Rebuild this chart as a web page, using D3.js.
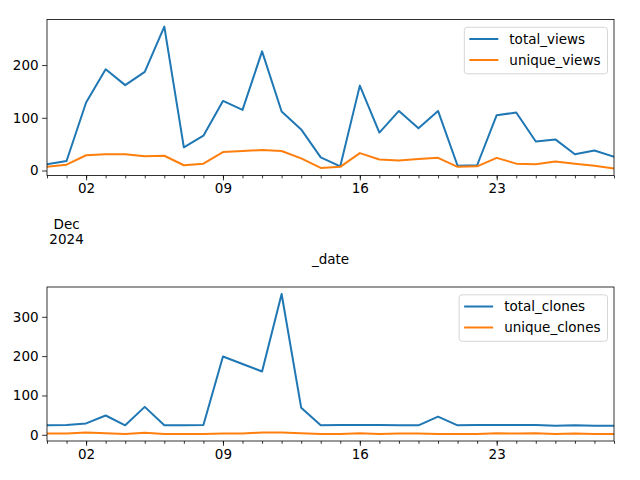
<!DOCTYPE html>
<html>
<head>
<meta charset="utf-8">
<script src="https://cdn.jsdelivr.net/npm/d3@7"></script>
<style>
  body { margin: 0; background: #fff; }
  svg text { font-family: "DejaVu Sans", sans-serif; font-size: 13.5px; fill: #000; }
</style>
</head>
<body>
<svg id="chart" width="640" height="480"></svg>
<script>
// Daily traffic, 2024-11-30 .. 2024-12-29
const dates = d3.timeDay.range(new Date(2024, 10, 30), new Date(2024, 11, 30))

const totalViews = [12, 18, 129, 192, 162, 187, 273, 44, 66, 132, 115, 226, 112, 78, 25,
  8, 161, 72, 113, 80, 113, 9, 10, 105, 110, 55, 59, 31, 38, 26]
const uniqueViews = [7, 11, 29, 31, 31, 27, 28, 10, 13, 35, 37, 39, 37, 23, 5,
  7, 33, 21, 19, 22, 24, 7, 8, 24, 13, 12, 17, 13, 9, 4]

const totalClones = [24, 25, 29, 49, 24, 71, 24, 24, 25, 199, 180, 161, 358, 69, 24,
  25, 25, 25, 24, 24, 46, 24, 25, 25, 25, 25, 23, 24, 23, 23]
const uniqueClones = [3, 3, 6, 4, 2, 5, 2, 2, 2, 3, 3, 6, 6, 4, 2,
  2, 4, 2, 3, 3, 2, 2, 2, 4, 3, 4, 2, 3, 2, 2]

const viewTicks = [0, 100, 200]
const cloneTicks = [0, 100, 200, 300]

const colors = ["#1f77b4", "#ff7f0e"]

const svg = d3.select("#chart")
const left = 47, right = 614

const x = d3.scaleTime()
  .domain([dates[0], dates[dates.length - 1]])
  .range([left, right])

function panel(top, bottom, series, names, yTicks, showYear) {
  const all = series.flat()
  const lo = d3.min(all), hi = d3.max(all)
  const pad = (hi - lo) * 0.05
  const y = d3.scaleLinear().domain([lo - pad, hi + pad]).range([bottom, top])

  const g = svg.append("g")

  // minor ticks, one per day
  g.append("g")
    .attr("transform", `translate(0,${bottom})`)
    .call(d3.axisBottom(x).ticks(d3.timeDay).tickSize(2.8).tickFormat(""))
    .call(a => a.select(".domain").remove())

  g.append("g")
    .attr("transform", `translate(0,${bottom})`)
    .call(d3.axisBottom(x).ticks(d3.timeMonday).tickSize(4.9).tickPadding(3.5)
      .tickFormat(d3.timeFormat("%d")))
    .call(a => a.select(".domain").remove())

  g.append("g")
    .attr("transform", `translate(${left},0)`)
    .call(d3.axisLeft(y).tickValues(yTicks).tickSize(4.9).tickPadding(3.5))
    .call(a => a.select(".domain").remove())

  g.selectAll(".tick line").attr("stroke", "#000").attr("stroke-width", 0.8)
  g.selectAll(".tick text").style("font-size", "13.5px").attr("fill", "#000")

  if (showYear) {
    const t = g.append("text")
      .attr("x", x(dates[1]))
      .attr("text-anchor", "middle")
    t.append("tspan").attr("x", x(dates[1])).attr("y", bottom + 53).text("Dec")
    t.append("tspan").attr("x", x(dates[1])).attr("y", bottom + 68).text("2024")
    g.append("text")
      .attr("x", (left + right) / 2)
      .attr("y", bottom + 88)
      .attr("text-anchor", "middle")
      .text("_date")
  }

  const clip = "clip" + top
  svg.append("clipPath").attr("id", clip)
    .append("rect").attr("x", left).attr("y", top).attr("width", right - left).attr("height", bottom - top)

  const line = d3.line().x((d, i) => x(dates[i])).y(d => y(d))
  series.forEach((s, k) => {
    g.append("path")
      .datum(s)
      .attr("clip-path", `url(#${clip})`)
      .attr("fill", "none")
      .attr("stroke", colors[k])
      .attr("stroke-width", 2)
      .attr("stroke-linejoin", "round")
      .attr("stroke-linecap", "square")
      .attr("d", line)
  })

  g.append("rect")
    .attr("x", left).attr("y", top)
    .attr("width", right - left).attr("height", bottom - top)
    .attr("fill", "none").attr("stroke", "#000").attr("stroke-width", 0.8)

  // legend
  const leg = g.append("g")
  const rowY = k => top + 19.5 + k * 21
  const labels = names.map((n, k) => leg.append("text")
    .attr("y", rowY(k))
    .attr("dy", "0.35em")
    .text(n))
  const tw = d3.max(labels, l => l.node().getComputedTextLength())
  const lw = tw + 52, lr = right - 6.5
  const lx = lr - lw
  leg.insert("rect", "text")
    .attr("x", lx).attr("y", top + 7.8)
    .attr("width", lw).attr("height", 46.5)
    .attr("rx", 3)
    .attr("fill", "#fff").attr("fill-opacity", 0.8)
    .attr("stroke", "#cccccc").attr("stroke-width", 0.8)
  labels.forEach((l, k) => {
    l.attr("x", lx + 45)
    leg.append("line")
      .attr("x1", lx + 5).attr("x2", lx + 34)
      .attr("y1", rowY(k)).attr("y2", rowY(k))
      .attr("stroke", colors[k]).attr("stroke-width", 2)
  })
}

panel(19.5, 175.5, [totalViews, uniqueViews], ["total_views", "unique_views"], viewTicks, true)
panel(287, 441, [totalClones, uniqueClones], ["total_clones", "unique_clones"], cloneTicks, false)
</script>
</body>
</html>
